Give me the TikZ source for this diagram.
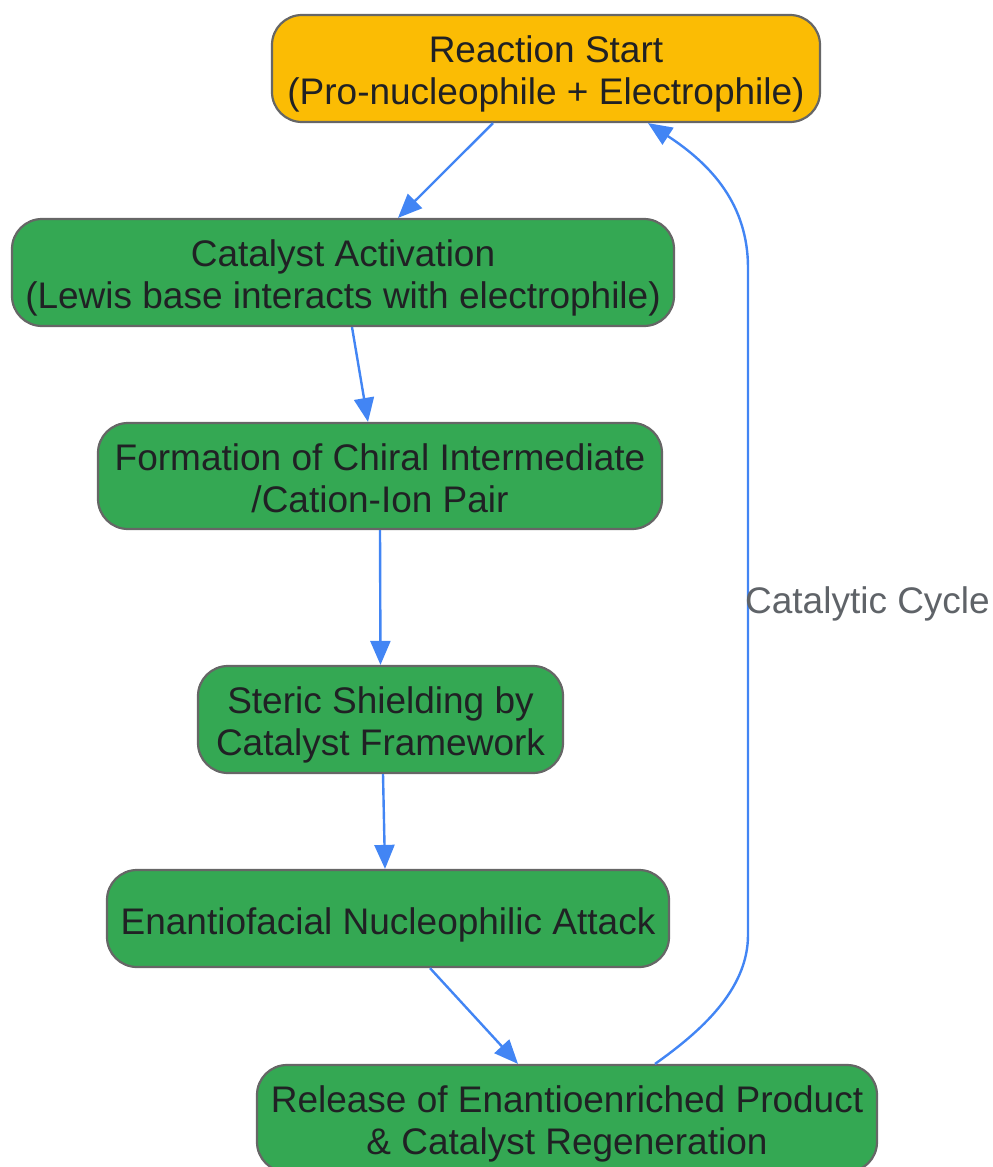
\documentclass[tikz,border=0pt]{standalone}
\usepackage{fontspec}
\setmainfont{Liberation Sans}
\usetikzlibrary{arrows.meta}
\definecolor{boxgreen}{HTML}{34A853}
\definecolor{boxyellow}{HTML}{FBBC04}
\definecolor{boxedge}{HTML}{666666}
\definecolor{txt}{HTML}{202124}
\definecolor{arr}{HTML}{4285F4}
\definecolor{lbl}{HTML}{5F6368}
\tikzset{
  stepnode/.style={draw=boxedge, line width=2.2pt, rounded corners=30pt, fill=boxgreen,
    text=txt, align=center, inner sep=0pt, font=\fontsize{37}{42}\selectfont,
    text depth=0pt, text height=72pt},
  oneline/.style={text height=31pt},
  startnode/.style={stepnode, fill=boxyellow},
  flow/.style={draw=arr, line width=2.4pt, -{Triangle[length=24pt,width=20pt]}},
}
\begin{document}
\begin{tikzpicture}[x=1pt,y=-1pt]
\useasboundingbox (0,0) rectangle (993,1167);
\node[startnode, minimum width=548pt, minimum height=107pt] (start) at (546,68.5)
  {Reaction Start\\(Pro-nucleophile + Electrophile)};
\node[stepnode, minimum width=662pt, minimum height=107pt] (act) at (343,272.5)
  {Catalyst Activation\\(Lewis base interacts with electrophile)};
\node[stepnode, minimum width=564pt, minimum height=106pt] (form) at (380,476)
  {Formation of Chiral Intermediate\\/Cation-Ion Pair};
\node[stepnode, minimum width=365pt, minimum height=107pt] (ster) at (380.5,719.5)
  {Steric Shielding by\\Catalyst Framework};
\node[stepnode, oneline, minimum width=562pt, minimum height=97pt] (enan) at (388,918.5)
  {Enantiofacial Nucleophilic Attack};
\node[stepnode, minimum width=620pt, minimum height=107pt] (rel) at (567,1118.5)
  {Release of Enantioenriched Product\\\& Catalyst Regeneration};
\draw[flow] ([xshift=-53pt]start.south) -- ([xshift=55pt]act.north);
\draw[flow] ([xshift=9pt]act.south) -- ([xshift=-12pt]form.north);
\draw[flow] (form.south) -- (ster.north);
\draw[flow] ([xshift=2.5pt]ster.south) -- ([xshift=-3pt]enan.north);
\draw[flow] ([xshift=42pt]enan.south) -- ([xshift=-49pt]rel.north);
\coordinate (c1) at (748,935);
\coordinate (c2) at (748,268);
\draw[flow] ([xshift=88pt]rel.north) .. controls (700,1032) and (748,990) .. (c1)
  -- (c2) .. controls (748,205) and (712,165) .. ([xshift=102pt]start.south);
\node[text=lbl, font=\fontsize{37}{42}\selectfont, inner sep=0pt, anchor=base] (cyc) at (867.5,613) {Catalytic Cycle};
\end{tikzpicture}
\end{document}
